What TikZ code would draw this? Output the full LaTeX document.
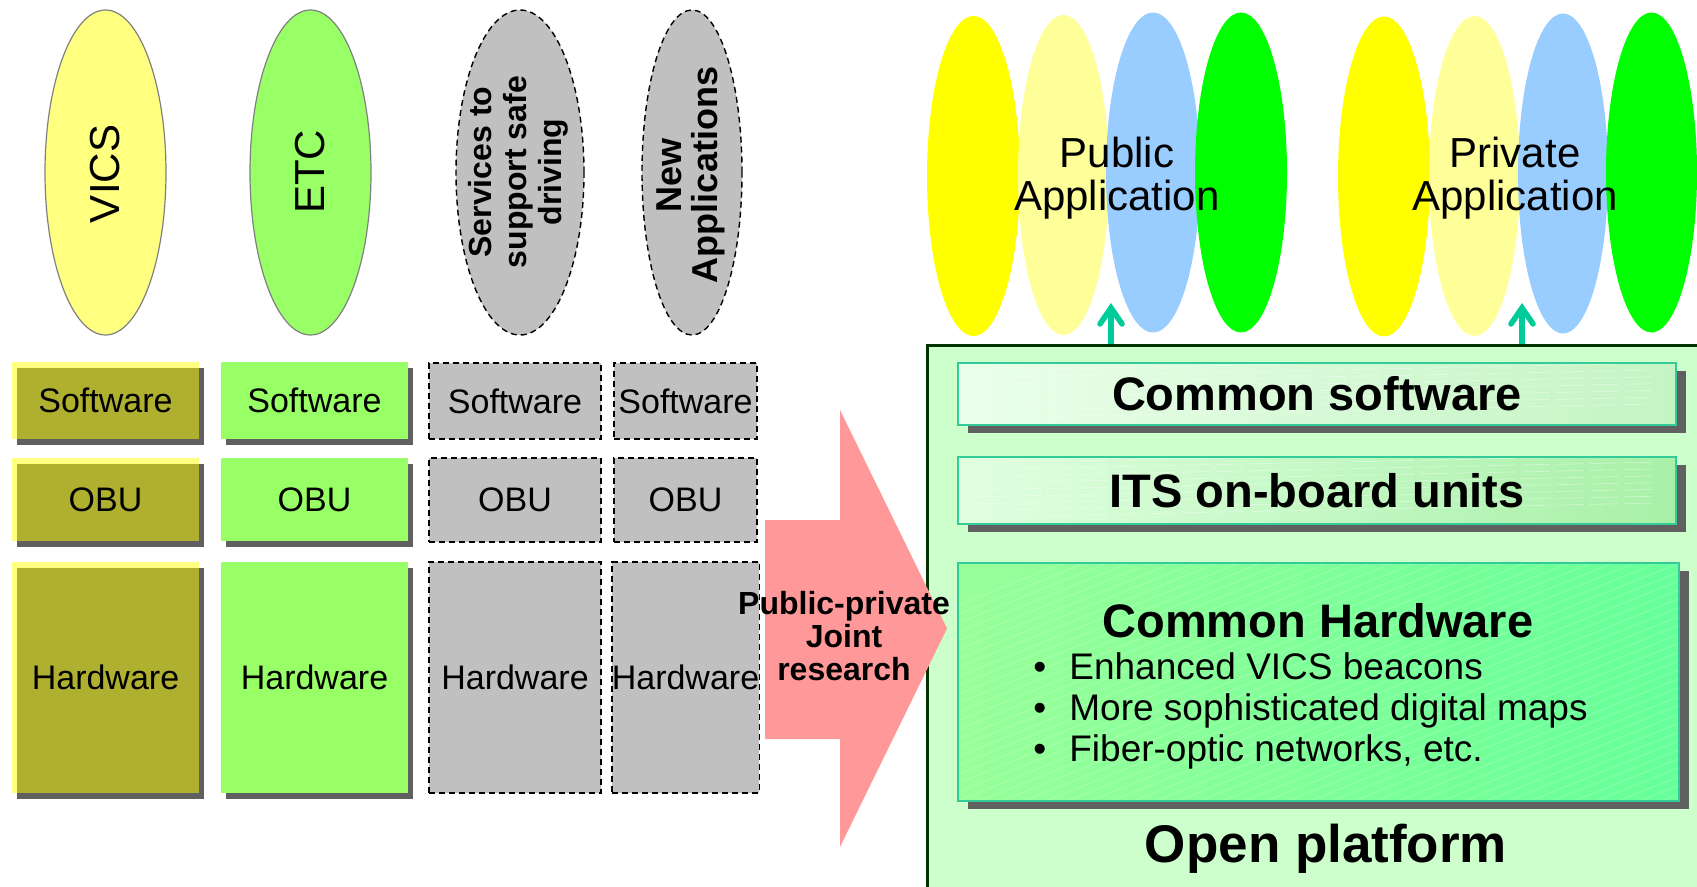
\documentclass[tikz,border=0pt]{standalone}
\usepackage{fontspec}
\setmainfont{Liberation Sans}
\usetikzlibrary{shapes.geometric,arrows.meta,shadows}
\definecolor{vicsyel}{HTML}{FFFF80}
\definecolor{vicsolive}{HTML}{B0B030}
\definecolor{etcgreen}{HTML}{99FF66}
\definecolor{shadowgray}{HTML}{606060}
\definecolor{boxgray}{HTML}{C0C0C0}
\definecolor{ellgray}{HTML}{808080}
\definecolor{pinkarrow}{HTML}{FF9999}
\definecolor{appyel}{HTML}{FFFF00}
\definecolor{applyel}{HTML}{FFFF99}
\definecolor{appblue}{HTML}{99CCFF}
\definecolor{appgreen}{HTML}{00FF00}
\definecolor{platfill}{HTML}{CCFFCC}
\definecolor{platborder}{HTML}{003300}
\definecolor{tealarrowc}{HTML}{00CC99}
\definecolor{boxborder}{HTML}{33CC99}
\definecolor{cswleft}{HTML}{EAFFEA}
\definecolor{cswright}{HTML}{C4F4C4}
\definecolor{itsleft}{HTML}{E0FFE0}
\definecolor{itsright}{HTML}{A8F0A8}
\definecolor{chwleft}{HTML}{99FF99}
\definecolor{chwright}{HTML}{66FF99}
\tikzset{
  svcell/.style={ellipse, minimum height=162.5pt, inner sep=0pt, line width=0.6pt},
  dashcell/.style={svcell, fill=boxgray, draw=black, dash pattern=on 3pt off 2pt, line width=0.7pt},
  celltext/.style={rotate=90, align=center, inner sep=0pt},
  blk/.style={rectangle, inner sep=0pt, minimum width=93.5pt, font=\fontsize{17pt}{20pt}\selectfont},
  blkshadow/.style={drop shadow={shadow xshift=2.5pt, shadow yshift=-3pt, fill=shadowgray, opacity=1}},
  oliveblk/.style={blk, fill=vicsyel, blkshadow, path picture={\fill[vicsolive] ([xshift=2.5pt,yshift=-3pt]path picture bounding box.north west) rectangle (path picture bounding box.south east);}},
  greenblk/.style={blk, fill=etcgreen, blkshadow},
  dashblk/.style={rectangle, inner sep=0pt, fill=boxgray, draw=black, dash pattern=on 3pt off 2pt, line width=0.7pt, font=\fontsize{17pt}{20pt}\selectfont},
  appell/.style={ellipse, inner sep=0pt, minimum height=160pt},
  apptext/.style={align=center, inner sep=0pt, font=\fontsize{21pt}{21.5pt}\selectfont},
  rbox/.style={rectangle, inner sep=0pt, draw=boxborder, line width=1pt, drop shadow={shadow xshift=5pt, shadow yshift=-4pt, fill=shadowgray, opacity=1}},
  flathatch/.style={path picture={\foreach \k in {1,...,9} \draw[white, opacity=0.35, line width=0.4pt, dash pattern=on 14pt off 3pt] ([xshift=10pt, yshift=\k*3.4pt]path picture bounding box.south west) -- ++(1.2:340pt);}},
  diaghatch/.style={path picture={\foreach \k in {-22,...,40} \draw[white, opacity=0.22, line width=0.4pt] ([xshift=\k*11pt]path picture bounding box.south west) -- ++(22:420pt);}},
  rtitle/.style={inner sep=0pt, font=\bfseries\fontsize{23.5pt}{26pt}\selectfont},
  tealarr/.style={draw=tealarrowc, line width=2.8pt, -{Straight Barb[length=8pt, width=11pt, line width=2.8pt, line cap=round]}}
}
\begin{document}
\begin{tikzpicture}[x=0.5pt,y=-0.5pt]
\useasboundingbox (0,0) rectangle (1697,887);
\clip (0,0) rectangle (1697,887);
\fill[white] (0,0) rectangle (1697,887);

% ---- left ellipses
\node[svcell, fill=vicsyel, draw=ellgray, minimum width=60.5pt] (vics) at (105.5,172.5) {};
\node[celltext, font=\fontsize{21pt}{24pt}\selectfont] (vicslbl) at (105,174) {VICS};
\node[svcell, fill=etcgreen, draw=ellgray, minimum width=60.5pt] (etc) at (310.5,172.5) {};
\node[celltext, font=\fontsize{21pt}{24pt}\selectfont] (etclbl) at (310,172) {ETC};
\node[dashcell, minimum width=64pt] (svc) at (520,172.5) {};
\node[celltext, font=\bfseries\fontsize{16pt}{17.5pt}\selectfont] (svclbl) at (518,172) {Services to\\support safe\\driving};
\node[dashcell, minimum width=50pt] (newapp) at (692,172.5) {};
\node[celltext, font=\bfseries\fontsize{18pt}{18pt}\selectfont] (newlbl) at (691,175) {New\\Applications};

% ---- left blocks, column VICS
\node[oliveblk, minimum height=38.5pt] (vsw) at (105.5,400.5) {Software};
\node[oliveblk, minimum height=41.5pt] (vobu) at (105.5,499.5) {OBU};
\node[oliveblk, minimum height=115.5pt] (vhw) at (105.5,677.5) {Hardware};
% column ETC
\node[greenblk, minimum height=38.5pt] (esw) at (314.5,400.5) {Software};
\node[greenblk, minimum height=41.5pt] (eobu) at (314.5,499.5) {OBU};
\node[greenblk, minimum height=115.5pt] (ehw) at (314.5,677.5) {Hardware};
% column services
\node[dashblk, minimum width=86pt, minimum height=38pt] (ssw) at (515,401) {Software};
\node[dashblk, minimum width=86pt, minimum height=42pt] (sobu) at (515,500) {OBU};
\node[dashblk, minimum width=86pt, minimum height=115.5pt] (shw) at (515,677.5) {Hardware};
% column new applications
\node[dashblk, minimum width=71.5pt, minimum height=38pt] (nsw) at (685.5,401) {Software};
\node[dashblk, minimum width=71.5pt, minimum height=42pt] (nobu) at (685.5,500) {OBU};
\node[dashblk, minimum width=71.5pt, minimum height=115.5pt] (nhw) at (685.5,677.5) {Hardware};

% ---- application ellipses
\node[appell, fill=appyel, minimum width=46.5pt] (pa1) at (973.5,176) {};
\node[appell, fill=applyel, minimum width=45.5pt] (pa2) at (1063.5,175) {};
\node[appell, fill=appblue, minimum width=47pt] (pa3) at (1153,172.5) {};
\node[appell, fill=appgreen, minimum width=46pt] (pa4) at (1241,172.5) {};
\node[apptext] (publbl) at (1117,178) {Public\\Application};
\node[appell, fill=appyel, minimum width=46pt] (pv1) at (1384,176.5) {};
\node[appell, fill=applyel, minimum width=45.5pt] (pv2) at (1474.5,176) {};
\node[appell, fill=appblue, minimum width=45pt] (pv3) at (1563,173.5) {};
\node[appell, fill=appgreen, minimum width=45.5pt] (pv4) at (1651.5,172.5) {};
\node[apptext] (privlbl) at (1515,178) {Private\\Application};

% ---- open platform
\node[rectangle, inner sep=0pt, draw=platborder, line width=1.5pt, fill=platfill, minimum width=396.5pt, minimum height=282pt] (plat) at (1323.5,628) {};
\coordinate (pubtip) at (1111,303);
\coordinate (privtip) at (1522,303);
\draw[tealarr] (pubtip |- plat.north) -- (pubtip);
\draw[tealarr] (privtip |- plat.north) -- (privtip);

\node[rbox, left color=cswleft, right color=cswright, flathatch, minimum width=359pt, minimum height=31pt, rtitle] (csw) at (1317,394) {Common software};
\node[rbox, left color=itsleft, right color=itsright, flathatch, minimum width=359pt, minimum height=33.5pt, rtitle] (its) at (1317,490.5) {ITS on-board units};
\node[rbox, left color=chwleft, right color=chwright, diaghatch, minimum width=360.5pt, minimum height=119pt] (chw) at (1318.5,682) {};
\node[rtitle] (chwlbl) at (1318,621) {Common Hardware};
\node[anchor=west, align=left, inner sep=0pt, font=\fontsize{18.5pt}{20.3pt}\selectfont] (chwlist) at (1033,711) {\makebox[18pt][l]{•}Enhanced VICS beacons\\\makebox[18pt][l]{•}More sophisticated digital maps\\\makebox[18pt][l]{•}Fiber-optic networks, etc.};
\node[inner sep=0pt, font=\bfseries\fontsize{26.5pt}{30pt}\selectfont] (oplbl) at (1326,849) {Open platform};

% ---- pink arrow (drawn over the platform edge)
\fill[pinkarrow] (765,520) -- (840,520) -- (840,410) -- (947,628.5) -- (840,847) -- (840,739) -- (765,739) -- cycle;
\node[align=center, inner sep=0pt, font=\bfseries\fontsize{16pt}{16.5pt}\selectfont] (ppjr) at (844,636) {Public-private\\Joint\\research};
\end{tikzpicture}
\end{document}
